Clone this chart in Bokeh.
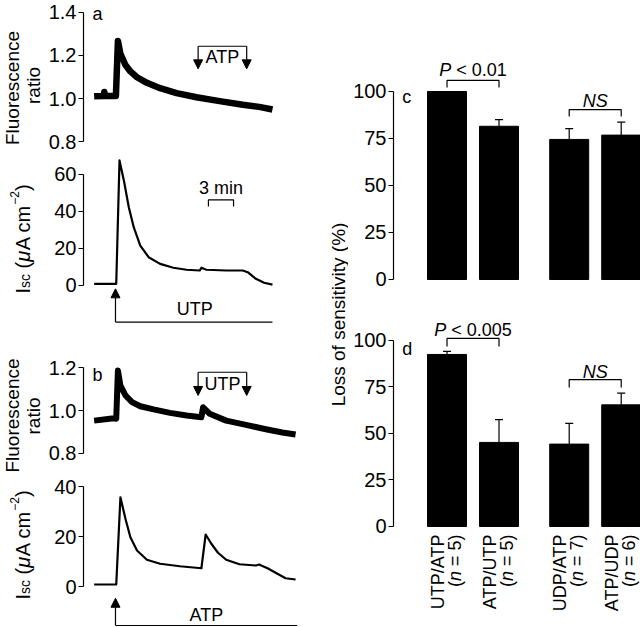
import math
from bokeh.plotting import figure
from bokeh.layouts import row, column
from bokeh.models import (Range1d, FixedTicker, PrintfTickFormatter, Label, Arrow,
                          NormalHead, Whisker, TeeHead, ColumnDataSource)
from bokeh.embed import file_html
from bokeh.resources import INLINE

FONT = "Liberation Sans"

# ---------------- data ----------------
# time in minutes, fluorescence ratio / Isc (uA cm-2)
a_fluo_t = [-0.15, 1.0, 1.07, 1.15, 2.45, 2.69, 2.99, 3.59, 4.18, 4.97, 6.15, 7.73, 9.70, 12.07, 14.83, 17.60, 19.56, 21.15]
a_fluo_v = [1.010, 1.012, 1.030, 1.012, 1.012, 1.268, 1.208, 1.156, 1.126, 1.099, 1.073, 1.048, 1.025, 1.006, 0.988, 0.971, 0.961, 0.949]
a_isc_t = [-0.15, 2.49, 2.88, 3.40, 3.99, 4.58, 5.36, 6.36, 7.73, 9.31, 10.89, 12.46, 12.66, 13.25, 15.62, 17.60, 18.19, 19.17, 20.15, 21.15]
a_isc_v = [0.9, 0.9, 67.6, 56.8, 42.3, 31.5, 21.6, 15.3, 11.7, 9.6, 8.5, 8.1, 9.6, 8.5, 8.1, 8.1, 7.2, 3.6, 1.5, 0.5]
b_fluo_t = [-0.15, 2.21, 2.49, 2.69, 2.99, 3.59, 4.38, 5.36, 6.95, 8.91, 10.89, 12.66, 12.86, 13.65, 15.62, 17.99, 20.36, 22.33, 23.91]
b_fluo_v = [0.953, 0.964, 0.962, 1.186, 1.116, 1.070, 1.039, 1.020, 1.005, 0.989, 0.977, 0.969, 1.015, 0.985, 0.953, 0.933, 0.913, 0.898, 0.888]
b_isc_t = [-0.15, 2.49, 2.99, 3.59, 4.18, 4.97, 6.15, 7.73, 10.09, 12.66, 13.17, 13.85, 14.64, 15.62, 17.20, 19.17, 19.56, 19.88, 20.56, 21.74, 22.72, 23.91]
b_isc_v = [0.8, 0.8, 35.7, 27.1, 19.7, 14.4, 10.7, 9.1, 8.1, 7.3, 20.8, 17.1, 13.5, 10.7, 8.9, 8.4, 8.8, 8.3, 7.3, 5.1, 3.3, 2.8]

stim_t = 2.40            # first agonist added
second_on, second_off = 12.27, 18.07
a_end, b_end = 21.15, 24.1
scale_min = [13.5, 16.5]   # 3 min scale bar

fluo_ticks_a = [0.8, 1.0, 1.2, 1.4]
fluo_ticks_b = [0.8, 1.0, 1.2]
isc_ticks_a = [0, 20, 40, 60]
isc_ticks_b = [0, 20, 40]

bar_labels = ["UTP/ATP", "ATP/UTP", "UDP/ATP", "ATP/UDP"]
bar_n = [5, 5, 7, 6]
c_vals = [100, 81.5, 74.5, 76.8]
c_err = [0, 3.5, 5.8, 6.9]
d_vals = [92.5, 45.2, 44.3, 65.4]
d_err = [1.7, 12.3, 11.1, 6.3]
pct_ticks = [0, 25, 50, 75, 100]

# ---------------- helpers ----------------
WID = {'I': 278, 's': 500, 'c': 500, ' ': 278, '(': 333, 'μ': 576, 'A': 667, 'm': 833,
       '−': 584, '2': 556, ')': 333, '=': 584, '5': 556, '6': 556, '7': 556, 'n': 556,
       'P': 667, '<': 584, '0': 556, '.': 278, '1': 556, 'N': 722, 'S': 667}


def tw(s, size):
    return sum(WID.get(ch, 556) for ch in s) * size / 1000.0


def lab(p, x, y, text, size=18, style="normal", align="center", baseline="middle", angle=0.0):
    p.add_layout(Label(x=x, y=y, text=text, text_font=FONT, text_font_size=f"{size}px",
                       text_font_style=style, text_align=align, text_baseline=baseline,
                       angle=angle, text_color="black"))


def arrow(p, x, y0, y1):
    p.add_layout(Arrow(end=NormalHead(size=9, fill_color="black", line_color="black", line_width=1),
                       x_start=x, y_start=y0, x_end=x, y_end=y1,
                       line_width=1.2, line_color="black"))


def style_y(p, bounds, ticks, fmt=None):
    ax = p.yaxis[0]
    ax.bounds = bounds
    ax.ticker = FixedTicker(ticks=ticks)
    if fmt:
        ax.formatter = PrintfTickFormatter(format=fmt)
    ax.major_tick_out = 5
    ax.major_tick_in = 0
    ax.minor_tick_out = 0
    ax.minor_tick_in = 0
    ax.axis_line_color = "black"
    ax.axis_line_width = 1.2
    ax.major_tick_line_color = "black"
    ax.major_tick_line_width = 1.2
    ax.major_label_text_font = FONT
    ax.major_label_text_font_size = "20px"
    ax.major_label_text_color = "black"
    ax.major_label_standoff = 2
    p.grid.visible = False


def plain_fig(w, h, xr, yr):
    p = figure(width=w, height=h, x_range=Range1d(*xr), y_range=Range1d(*yr),
               x_axis_location=None, y_axis_location=None, toolbar_location=None,
               output_backend="svg", min_border=0, outline_line_color=None,
               background_fill_color="white", border_fill_color="white")
    p.grid.visible = False
    return p


def trace_fig(h, yr):
    p = figure(width=255, height=h, x_range=Range1d(-1.42, 24.497), y_range=Range1d(*yr),
               x_axis_location=None, toolbar_location=None, output_backend="svg",
               min_border_left=36, min_border_right=0, min_border_top=0, min_border_bottom=0,
               outline_line_color=None, background_fill_color="white", border_fill_color="white")
    return p


# ---------------- left strip with axis titles (pixel coordinates) ----------------
fL = plain_fig(45, 627, (0, 45), (627, 0))


def isc_label(p, x_base, y_start):
    pieces = [("I", 20, "normal", 0, 0), ("sc", 14, "normal", 2, 0), ("(", 20, "normal", 0, tw(" ", 20)),
              ("μ", 20, "italic", 0, 0), ("A cm", 20, "normal", 0, 0), ("−2", 12, "normal", -8, 0),
              (")", 20, "normal", 0, 0)]
    pos = 0.0
    for txt, size, style, dx, gap in pieces:
        pos += gap
        lab(p, x_base + dx, y_start - pos, txt, size=size, style=style,
            align="left", baseline="alphabetic", angle=math.pi / 2)
        pos += tw(txt, size)


lab(fL, 12, 87.5, "Fluorescence", size=19, angle=math.pi / 2)
lab(fL, 33, 85, "ratio", size=19, angle=math.pi / 2)
isc_label(fL, 22, 293)
lab(fL, 12, 415, "Fluorescence", size=19, angle=math.pi / 2)
lab(fL, 33, 415.5, "ratio", size=19, angle=math.pi / 2)
isc_label(fL, 22, 599)

# ---------------- panel a ----------------
fa1 = trace_fig(155, (0.7349, 1.4558))
fa1.line(a_fluo_t, a_fluo_v, line_color="black", line_width=6.5, line_join="round")
style_y(fa1, (0.8, 1.4), fluo_ticks_a, "%.1f")
lab(fa1, -0.355, 1.394, "a", align="left")
fa1.line([second_on, second_off], [1.243, 1.243], line_color="black", line_width=1.2)
arrow(fa1, second_on, 1.243, 1.138)
arrow(fa1, second_off, 1.243, 1.138)
lab(fa1, (second_on + second_off) / 2, 1.192, "ATP")

fa2 = trace_fig(180, (-27.03, 70.27))
fa2.line(a_isc_t, a_isc_v, line_color="black", line_width=2.2, line_join="round")
style_y(fa2, (0, 60), isc_ticks_a)
fa2.line([scale_min[0], scale_min[0], scale_min[1], scale_min[1]], [42.7, 46.3, 46.3, 42.7],
         line_color="black", line_width=1.2)
lab(fa2, sum(scale_min) / 2, 52.7, "3 min")
arrow(fa2, stim_t, -19.8, -1.8)
fa2.line([stim_t, a_end], [-19.8, -19.8], line_color="black", line_width=1.2)
lab(fa2, 11.87, -12.6, "UTP")

# ---------------- panel b ----------------
fb1 = trace_fig(131, (0.7395, 1.349))
fb1.line(b_fluo_t, b_fluo_v, line_color="black", line_width=6, line_join="round")
style_y(fb1, (0.8, 1.2), fluo_ticks_b, "%.1f")
lab(fb1, -0.355, 1.163, "b", align="left")
fb1.line([second_on, second_off], [1.178, 1.178], line_color="black", line_width=1.2)
arrow(fb1, second_on, 1.178, 1.07)
arrow(fb1, second_off, 1.178, 1.07)
lab(fb1, (second_on + second_off) / 2, 1.124, "UTP")

fb2 = trace_fig(161, (-16.4, 48.0))
fb2.line(b_isc_t, b_isc_v, line_color="black", line_width=2.2, line_join="round")
style_y(fb2, (0, 40), isc_ticks_b)
arrow(fb2, stim_t, -15.6, -4.7)
fb2.line([stim_t, b_end], [-15.6, -15.6], line_color="black", line_width=1.2)
lab(fb2, 13.25, -11.2, "ATP")

# ---------------- bar panels c, d ----------------
GROUP_GAP = 0.35
bar_x = [i + GROUP_GAP * (i // 2) for i in range(len(bar_labels))]
PPU_X = 52.0


def bar_fig(h, yr):
    p = figure(width=292, height=h, x_range=Range1d(-1.029, 3.721), y_range=Range1d(*yr),
               x_axis_location=None, toolbar_location=None, output_backend="svg",
               min_border_left=45, min_border_right=0, min_border_top=0, min_border_bottom=0,
               outline_line_color=None, background_fill_color="white", border_fill_color="white")
    style_y(p, (0, 100), pct_ticks)
    return p


def bars(p, vals, errs):
    p.vbar(x=bar_x, top=vals, bottom=0, width=0.75, fill_color="black", line_color="black")
    xs = [x for x, e in zip(bar_x, errs) if e > 0]
    lo = [v for v, e in zip(vals, errs) if e > 0]
    hi = [v + e for v, e in zip(vals, errs) if e > 0]
    src = ColumnDataSource(dict(x=xs, lo=lo, hi=hi))
    p.add_layout(Whisker(source=src, base="x", lower="lo", upper="hi", dimension="height",
                         line_color="black", line_width=1.2,
                         upper_head=TeeHead(size=8, line_color="black", line_width=1.2),
                         lower_head=None))


def bracket(p, x0, x1, ylo, yhi):
    p.line([x0, x0, x1, x1], [ylo, yhi, yhi, ylo], line_color="black", line_width=1.2)


def pval(p, xmid, y, rest, size=18):
    wP = tw("P", size)
    gap = tw(" ", size)
    total = wP + gap + tw(rest, size)
    xa = xmid + (-total / 2 + wP) / PPU_X
    lab(p, xa, y, "P", size=size, style="italic", align="right")
    lab(p, xa + gap / PPU_X, y, rest, size=size, align="left")


fc = bar_fig(300, (-11.17, 148.4))
bars(fc, c_vals, c_err)
bracket(fc, bar_x[0], bar_x[1], 102.1, 105.9)
pval(fc, (bar_x[0] + bar_x[1]) / 2, 111.2, "< 0.01")
bracket(fc, bar_x[2], bar_x[3], 86.7, 90.4)
lab(fc, (bar_x[2] + bar_x[3]) / 2, 94.8, "NS", style="italic")
lab(fc, -0.86, 97.0, "c", align="left")

fd = bar_fig(327, (-54.3, 121.5))
bars(fd, d_vals, d_err)
bracket(fd, bar_x[0], bar_x[1], 96.8, 101.1)
pval(fd, (bar_x[0] + bar_x[1]) / 2, 105.4, "< 0.005")
bracket(fd, bar_x[2], bar_x[3], 74.7, 79.0)
lab(fd, (bar_x[2] + bar_x[3]) / 2, 83.0, "NS", style="italic")
lab(fd, -0.86, 95.2, "d", align="left")

PPU_D = 1.86
y_top = -4.3
for x, name, n in zip(bar_x, bar_labels, bar_n):
    lab(fd, x - 9 / PPU_X, y_top, name, angle=math.pi / 2, align="right")
    tail = f"= {n})"
    lab(fd, x + 8 / PPU_X, y_top, tail, angle=math.pi / 2, align="right")
    y2 = y_top - (tw(tail, 18) + tw(" ", 18)) / PPU_D
    lab(fd, x + 8 / PPU_X, y2, "n", style="italic", angle=math.pi / 2, align="right")
    y3 = y2 - tw("n", 18) / PPU_D
    lab(fd, x + 8 / PPU_X, y3, "(", angle=math.pi / 2, align="right")

# shared y title for c and d (pixel coordinates)
fR = plain_fig(48, 627, (300, 348), (627, 0))
lab(fR, 338, 314, "Loss of sensitivity (%)", size=19, angle=math.pi / 2)

layout = row(fL, column(fa1, fa2, fb1, fb2), fR, column(fc, fd))
open("out.html", "w").write(file_html(layout, INLINE))
